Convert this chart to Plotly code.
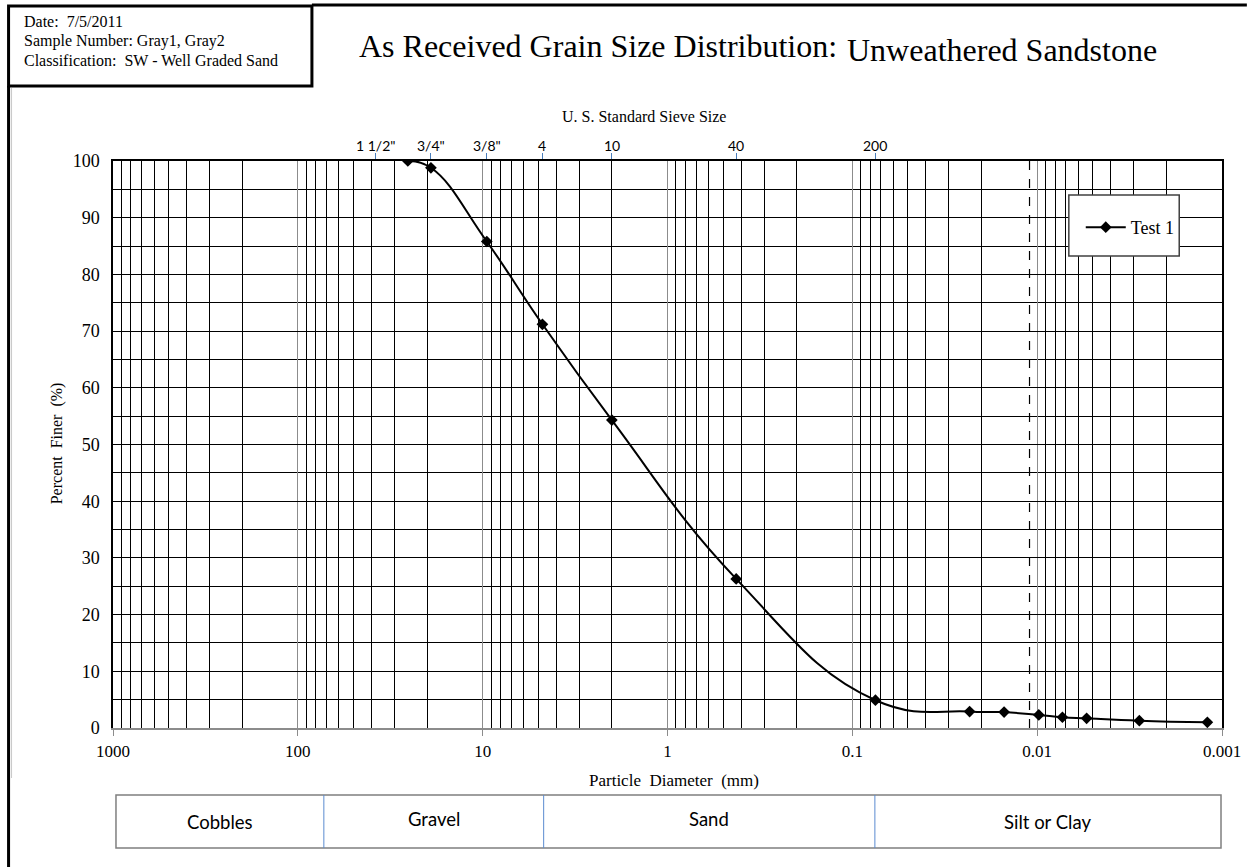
import math
import plotly.graph_objects as go

# ---- test data -------------------------------------------------------------
diameter_mm = [25.4, 19.05, 9.5, 4.75, 2.0, 0.425, 0.075,
               0.0232, 0.0151, 0.0098, 0.0073, 0.0054, 0.0028, 0.0012]
percent_finer = [100, 98.8, 85.8, 71.2, 54.3, 26.3, 4.9,
                 2.9, 2.8, 2.3, 1.9, 1.7, 1.3, 1.0]

# U.S. standard sieves (opening in mm) shown on the top axis
sieve_mm = [38.1, 19.05, 9.525, 4.75, 2.0, 0.425, 0.075]
sieve_labels = ['1 1/2"', '3/4"', '3/8"', '4', '10', '40', '200']

silt_clay_boundary_mm = 0.011

soil_classes = ["Cobbles", "Gravel", "Sand", "Silt or Clay"]

info_lines = ["Date:  7/5/2011",
              "Sample Number: Gray1, Gray2",
              "Classification:  SW - Well Graded Sand"]

# ---- page geometry (pixels) ------------------------------------------------
W, H = 1253, 867
L, R, T, B = 113, 1228, 161, 728


def px(x):
    return (x - L) / (R - L)


def py(y):
    return (B - y) / (B - T)


SERIF = "Liberation Serif, Times New Roman, serif"
SANS = "Lato, Carlito, Calibri, sans-serif"

fig = go.Figure()

fig.add_trace(go.Scatter(
    x=diameter_mm, y=percent_finer, name="Test 1",
    mode="lines+markers",
    line=dict(color="black", width=2, shape="spline", smoothing=1.3),
    marker=dict(symbol="diamond", size=9, color="black"),
))

# carrier trace for the sieve-size axis
fig.add_trace(go.Scatter(
    x=sieve_mm, y=[100] * len(sieve_mm), xaxis="x2",
    mode="markers", marker=dict(opacity=0), showlegend=False,
    hoverinfo="skip",
))

fig.add_shape(type="line", xref="x", yref="y",
              x0=silt_clay_boundary_mm, x1=silt_clay_boundary_mm, y0=0, y1=100,
              line=dict(color="black", width=1.2, dash="dash"))

xrange = [3, -3]

fig.update_layout(
    width=W, height=H, autosize=False,
    margin=dict(l=L, r=W - R, t=T, b=H - B, pad=0),
    paper_bgcolor="white", plot_bgcolor="white",
    showlegend=True,
    legend=dict(x=px(1086), y=py(209), xanchor="left", yanchor="top",
                bgcolor="rgba(0,0,0,0)", borderwidth=0,
                font=dict(family=SERIF, size=18, color="black"),
                itemwidth=40),
    xaxis=dict(
        type="log", range=xrange, autorange=False,
        tickvals=[1000, 100, 10, 1, 0.1, 0.01, 0.001],
        ticktext=["1000", "100", "10", "1", "0.1", "0.01", "0.001"],
        showgrid=True, gridcolor="#8c8c8c", gridwidth=1,
        minor=dict(dtick="D1", showgrid=True, gridcolor="black",
                   gridwidth=1, ticks=""),
        ticks="outside", ticklen=6, tickcolor="#8c8c8c",
        showline=True, linecolor="#8c8c8c", linewidth=1.5,
        zeroline=False,
        tickfont=dict(family=SERIF, size=17, color="black"),
        ticklabelstandoff=1,
    ),
    xaxis2=dict(
        type="log", range=xrange, autorange=False, overlaying="x",
        side="top", anchor="y",
        tickvals=sieve_mm, showticklabels=False,
        ticks="outside", ticklen=6, tickcolor="#4a7ebb", tickwidth=1,
        showgrid=False, showline=True, linecolor="black", linewidth=1.5,
    ),
    yaxis=dict(
        range=[0, 100], dtick=10, tick0=0,
        showgrid=True, gridcolor="black", gridwidth=1,
        minor=dict(dtick=5, showgrid=True, gridcolor="black", gridwidth=1),
        ticks="", showline=True, linecolor="black", linewidth=1.5,
        mirror=True, zeroline=False,
        tickfont=dict(family=SERIF, size=18, color="black"),
        ticklabelstandoff=8,
    ),
)

shapes = []
annotations = []

# sieve labels above the plot (log axis: annotation x in log10 units)
for s, lab in zip(sieve_mm, sieve_labels):
    annotations.append(dict(text=lab, xref="x", yref="paper",
                            x=math.log10(s), y=py(145), showarrow=False,
                            xanchor="center", yanchor="middle",
                            font=dict(family=SANS, size=14, color="black")))

# frame around the page
shapes.append(dict(type="line", xref="paper", yref="paper",
                   x0=px(313), x1=px(W), y0=py(5), y1=py(5),
                   line=dict(color="black", width=3)))
shapes.append(dict(type="line", xref="paper", yref="paper",
                   x0=px(8), x1=px(8), y0=py(86), y1=py(H),
                   line=dict(color="black", width=3)))
shapes.append(dict(type="line", xref="paper", yref="paper",
                   x0=px(11), x1=px(11), y0=py(88), y1=py(778),
                   line=dict(color="#c8c8c8", width=1)))

# sample information box
shapes.append(dict(type="rect", xref="paper", yref="paper",
                   x0=px(8), x1=px(313), y0=py(86), y1=py(6),
                   line=dict(color="black", width=3), fillcolor="white"))
for i, txt in enumerate(info_lines):
    annotations.append(dict(text=txt, xref="paper", yref="paper",
                            x=px(22), y=py(22 + i * 19), xanchor="left",
                            yanchor="middle", showarrow=False,
                            font=dict(family=SERIF, size=16, color="black")))

# chart title
annotations.append(dict(text="As Received Grain Size Distribution:",
                        xref="paper", yref="paper", x=px(843), y=py(46),
                        xanchor="right", yanchor="middle", showarrow=False,
                        font=dict(family=SERIF, size=32, color="black")))
annotations.append(dict(text="Unweathered Sandstone",
                        xref="paper", yref="paper", x=px(849), y=py(50),
                        xanchor="left", yanchor="middle", showarrow=False,
                        font=dict(family=SERIF, size=32, color="black")))

# axis titles
annotations.append(dict(text="U. S. Standard Sieve Size", xref="paper",
                        yref="paper", x=px(647), y=py(116), showarrow=False,
                        xanchor="center", yanchor="middle",
                        font=dict(family=SERIF, size=16, color="black")))
annotations.append(dict(text="Particle  Diameter  (mm)", xref="paper",
                        yref="paper", x=px(677), y=py(780), showarrow=False,
                        xanchor="center", yanchor="middle",
                        font=dict(family=SERIF, size=17, color="black")))
annotations.append(dict(text="Percent  Finer  (%)", xref="paper",
                        yref="paper", x=px(57), y=py(443), showarrow=False,
                        xanchor="center", yanchor="middle", textangle=-90,
                        font=dict(family=SERIF, size=16, color="black")))

# legend frame
shapes.append(dict(type="rect", xref="paper", yref="paper",
                   x0=px(1074), x1=px(1185), y0=py(256), y1=py(195),
                   line=dict(color="#404040", width=1.5), fillcolor="white",
                   layer="above"))

# soil classification strip
tbl_l, tbl_r, tbl_t, tbl_b = 116, 1227, 795, 848
dividers = [325, 546, 879]
shapes.append(dict(type="rect", xref="paper", yref="paper",
                   x0=px(tbl_l), x1=px(tbl_r), y0=py(tbl_b), y1=py(tbl_t),
                   line=dict(color="#7f7f7f", width=1.5), fillcolor="white"))
for d in dividers:
    shapes.append(dict(type="line", xref="paper", yref="paper",
                       x0=px(d), x1=px(d), y0=py(tbl_b), y1=py(tbl_t),
                       line=dict(color="#5b8bd0", width=1)))
edges = [tbl_l] + dividers + [tbl_r]
label_y = [822, 819, 819, 822]
for i, name in enumerate(soil_classes):
    cx = (edges[i] + edges[i + 1]) / 2
    annotations.append(dict(text=name, xref="paper", yref="paper",
                            x=px(cx), y=py(label_y[i]), showarrow=False,
                            xanchor="center", yanchor="middle",
                            font=dict(family=SANS, size=18.5, color="black")))

fig.update_layout(shapes=list(fig.layout.shapes) + shapes,
                  annotations=annotations)

fig.write_html("out.html")
